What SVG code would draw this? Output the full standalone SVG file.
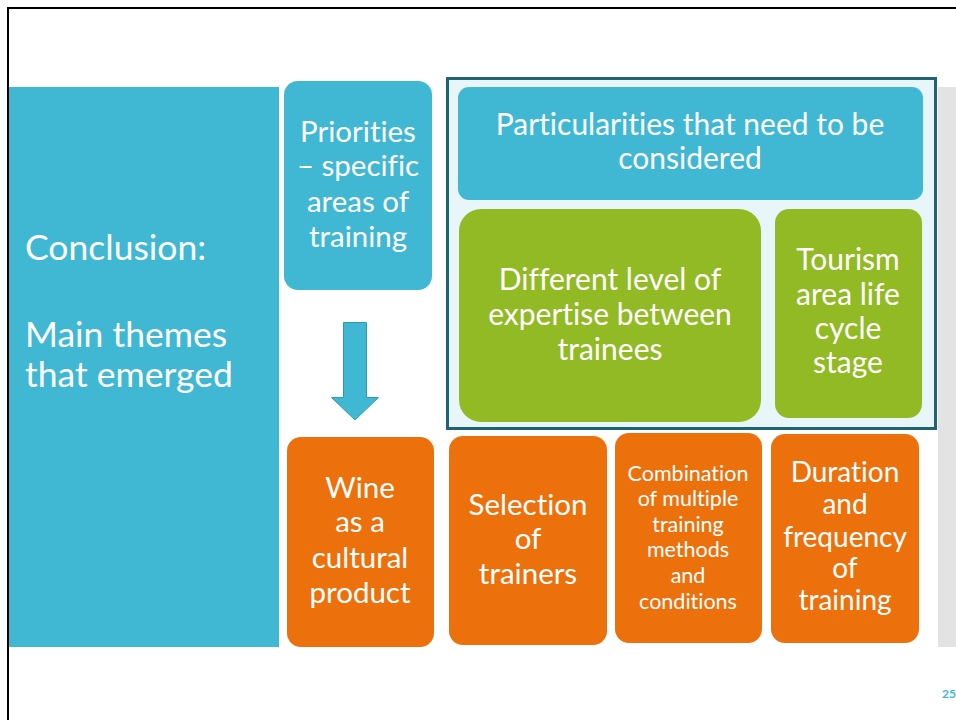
<svg xmlns="http://www.w3.org/2000/svg" width="956" height="720" viewBox="0 0 956 720">
<style>
.t{font-family:Lato,"Open Sans","Liberation Sans",sans-serif;fill:#fff;text-anchor:middle;font-variant-ligatures:none}
.blue{fill:#41B8D3}
.green{fill:#92BA24}
.orange{fill:#EC710C}
</style>
<rect x="0" y="0" width="956" height="720" fill="#fff"/>
<rect x="8" y="8" width="960" height="720" fill="none" stroke="#000" stroke-width="2"/>
<rect x="938" y="87" width="18" height="560" fill="#E3E3E3"/>
<g id="conclusion">
<rect x="9" y="87" width="270" height="560" class="blue"/>
<text class="t" style="text-anchor:start" font-size="35.5" x="25"><tspan x="25" y="260">Conclusion:</tspan><tspan x="25" y="347">Main themes</tspan><tspan x="25" y="387">that emerged</tspan></text>
</g>
<g id="priorities">
<rect x="284" y="81" width="148" height="209" rx="14" class="blue"/>
<text class="t" font-size="29.5"><tspan x="358" y="142">Priorities</tspan><tspan x="358" y="176">– specific</tspan><tspan x="358" y="212">areas of</tspan><tspan x="358" y="247">training</tspan></text>
</g>
<g id="particularities-group">
<rect x="447.5" y="78.5" width="488" height="350" fill="#E8F5F9" stroke="#1E6472" stroke-width="3"/>
</g>
<g id="particularities">
<rect x="458" y="87" width="465" height="113" rx="11" class="blue"/>
<text class="t" font-size="30"><tspan x="690" y="135">Particularities that need to be</tspan><tspan x="690" y="169">considered</tspan></text>
</g>
<g id="expertise">
<rect x="459" y="209" width="302" height="213" rx="22" class="green"/>
<text class="t" font-size="30"><tspan x="610" y="290">Different level of</tspan><tspan x="610" y="325">expertise between</tspan><tspan x="610" y="360">trainees</tspan></text>
</g>
<g id="tourism">
<rect x="775" y="209" width="147" height="209" rx="14" class="green"/>
<text class="t" font-size="30"><tspan x="848" y="270">Tourism</tspan><tspan x="848" y="305">area life</tspan><tspan x="848" y="339">cycle</tspan><tspan x="848" y="373">stage</tspan></text>
</g>
<g id="connectors">
<path d="M343.5,322.5 H366.5 V397.5 H378.5 L355,420 L331.5,397.5 H343.5 Z" class="blue" stroke="#2E9BB5" stroke-width="1"/>
</g>
<g id="wine">
<rect x="287" y="437" width="147" height="210" rx="14" class="orange"/>
<text class="t" font-size="29.5"><tspan x="360" y="498">Wine</tspan><tspan x="360" y="532">as a</tspan><tspan x="360" y="568">cultural</tspan><tspan x="360" y="603">product</tspan></text>
</g>
<g id="selection">
<rect x="449" y="436" width="158" height="209" rx="14" class="orange"/>
<text class="t" font-size="29.5"><tspan x="528" y="515">Selection</tspan><tspan x="528" y="549">of</tspan><tspan x="528" y="584">trainers</tspan></text>
</g>
<g id="combination">
<rect x="615" y="433" width="147" height="210" rx="14" class="orange"/>
<text class="t" font-size="21.5"><tspan x="688" y="481">Combination</tspan><tspan x="688" y="506">of multiple</tspan><tspan x="688" y="532">training</tspan><tspan x="688" y="557">methods</tspan><tspan x="688" y="583">and</tspan><tspan x="688" y="609">conditions</tspan></text>
</g>
<g id="duration">
<rect x="771" y="434" width="148" height="209" rx="14" class="orange"/>
<text class="t" font-size="28"><tspan x="845" y="482">Duration</tspan><tspan x="845" y="514">and</tspan><tspan x="845" y="547">frequency</tspan><tspan x="845" y="578">of</tspan><tspan x="845" y="610">training</tspan></text>
</g>
<text x="949" y="698" font-family="Lato,'Liberation Sans',sans-serif" font-size="12" font-weight="bold" fill="#41B8D3" text-anchor="middle">25</text>
</svg>
